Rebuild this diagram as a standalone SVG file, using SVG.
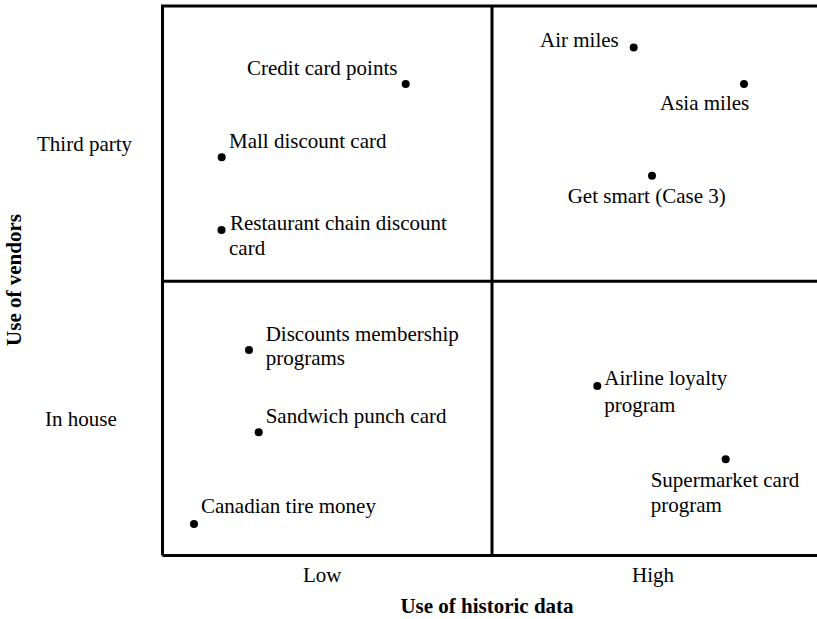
<svg xmlns="http://www.w3.org/2000/svg" width="817" height="619" viewBox="0 0 817 619">
<style>
.t{font-family:"Liberation Serif","Times New Roman",serif;font-size:21px;fill:#000}
.b{font-family:"Liberation Serif","Times New Roman",serif;font-size:21px;font-weight:bold;fill:#000}
.ln{stroke:#000;stroke-width:3;fill:none}
.d{fill:#000}
</style>
<rect width="817" height="619" fill="#fff"/>
<g id="grid">
<path class="ln" d="M162.5,555.5 V6 H830 M162.5,555.5 H830 M492,6 V555.5 M162.5,281.3 H830"/>
</g>
<g id="connectors"></g>
<g id="axes">
<text class="t" x="37" y="151">Third party</text>
<text class="t" x="45" y="426">In house</text>
<text class="b" transform="translate(21,280) rotate(-90)" text-anchor="middle">Use of vendors</text>
<text class="t" x="303" y="582">Low</text>
<text class="t" x="632" y="582">High</text>
<text class="b" x="487" y="613" text-anchor="middle">Use of historic data</text>
</g>
<g id="credit-card-points"><circle class="d" cx="405.7" cy="84" r="4"/><text class="t" x="247" y="75">Credit card points</text></g>
<g id="mall-discount-card"><circle class="d" cx="221.7" cy="157.3" r="4"/><text class="t" x="229" y="148">Mall discount card</text></g>
<g id="restaurant-chain"><circle class="d" cx="221.5" cy="230" r="4"/><text class="t" x="230" y="230">Restaurant chain discount</text><text class="t" x="229" y="255">card</text></g>
<g id="air-miles"><circle class="d" cx="633.7" cy="47.5" r="4"/><text class="t" x="540" y="47">Air miles</text></g>
<g id="asia-miles"><circle class="d" cx="744" cy="84" r="4"/><text class="t" x="660" y="110">Asia miles</text></g>
<g id="get-smart"><circle class="d" cx="652" cy="175.7" r="4"/><text class="t" x="567.7" y="203">Get smart (Case 3)</text></g>
<g id="discounts-membership"><circle class="d" cx="249" cy="350" r="4"/><text class="t" x="265.7" y="340.7">Discounts membership</text><text class="t" x="265.7" y="365">programs</text></g>
<g id="sandwich-punch-card"><circle class="d" cx="258.7" cy="432.3" r="4"/><text class="t" x="265.7" y="423.3">Sandwich punch card</text></g>
<g id="canadian-tire-money"><circle class="d" cx="194" cy="524" r="4"/><text class="t" x="201" y="513.3">Canadian tire money</text></g>
<g id="airline-loyalty"><circle class="d" cx="597.3" cy="386" r="4"/><text class="t" x="604.3" y="385">Airline loyalty</text><text class="t" x="604.3" y="411.7">program</text></g>
<g id="supermarket-card"><circle class="d" cx="725.7" cy="459.3" r="4"/><text class="t" x="650.7" y="486.7">Supermarket card</text><text class="t" x="650.7" y="511.7">program</text></g>
</svg>
